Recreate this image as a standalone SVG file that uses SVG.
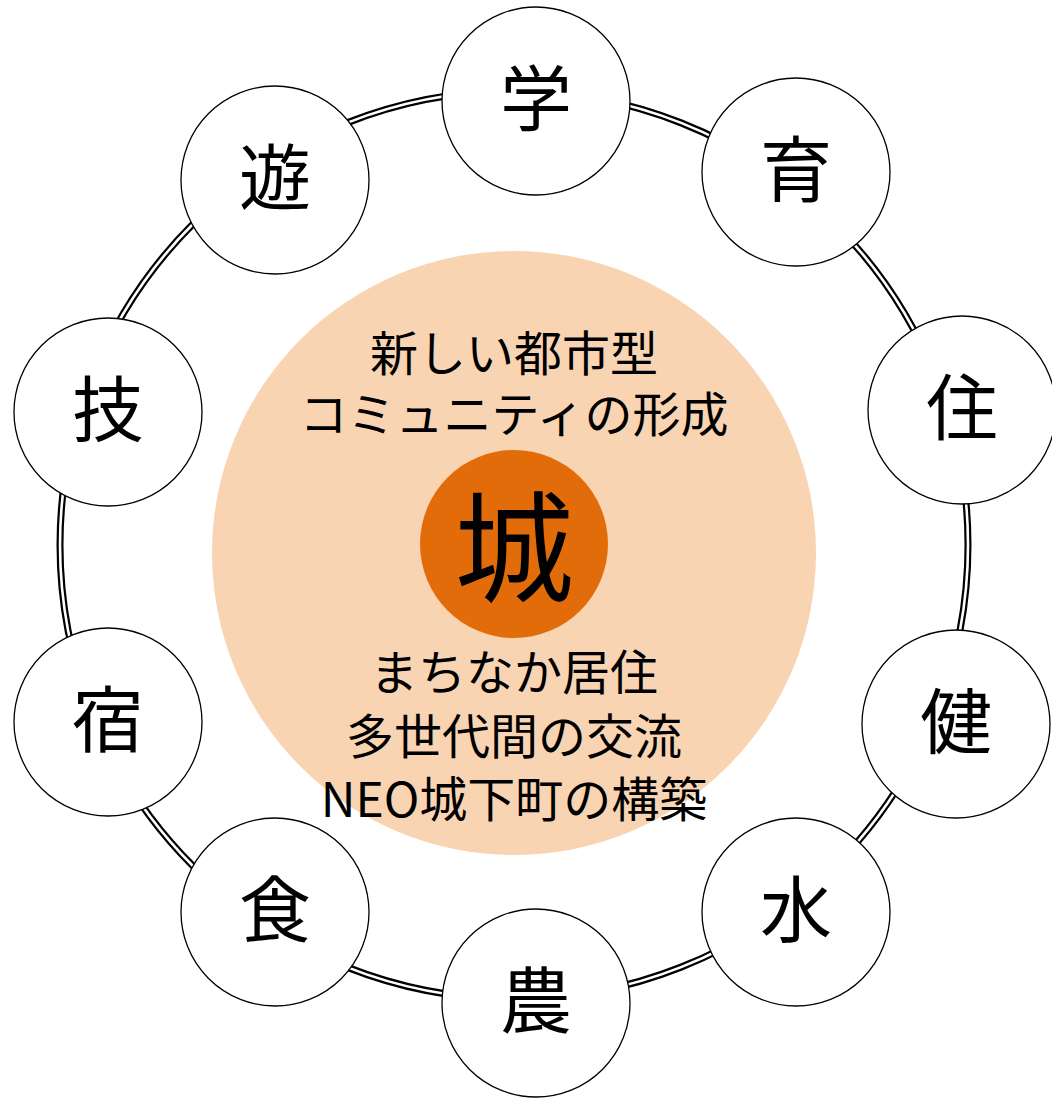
<svg xmlns="http://www.w3.org/2000/svg" width="1052" height="1098" viewBox="0 0 1052 1098">
<style>
.node{fill:#fff;stroke:#000;stroke-width:1.3}
.lbl{font-family:"Noto Sans CJK JP","Noto Sans",sans-serif;font-size:72px;fill:#000;text-anchor:middle;dominant-baseline:central}
.txt{font-family:"Noto Sans CJK JP","Noto Sans",sans-serif;font-size:48px;fill:#000;text-anchor:middle}
</style>
<rect width="1052" height="1098" fill="#fff"/>
<g id="connectors">
<circle cx="514" cy="545" r="454" fill="none" stroke="#000" stroke-width="7"/>
<circle cx="514" cy="545" r="454" fill="none" stroke="#fff" stroke-width="2.6"/>
</g>
<g id="center">
<circle cx="514" cy="553" r="302" fill="#F9D4B3"/>
<text class="txt" x="514" y="371">新しい都市型</text>
<text class="txt" x="514" y="432">コミュニティの形成</text>
<circle cx="514" cy="544" r="94" fill="#E36C0A"/>
<text x="514" y="541" font-family="Noto Sans CJK JP,sans-serif" font-size="120" text-anchor="middle" dominant-baseline="central">城</text>
<text class="txt" x="514" y="690">まちなか居住</text>
<text class="txt" x="514" y="754">多世代間の交流</text>
<text class="txt" x="514" y="817">NEO城下町の構築</text>
</g>
<g id="n-gaku"><circle class="node" cx="536" cy="101" r="94"/><text class="lbl" x="536" y="93">学</text></g>
<g id="n-iku"><circle class="node" cx="796" cy="172" r="94"/><text class="lbl" x="796" y="164">育</text></g>
<g id="n-juu"><circle class="node" cx="962" cy="410" r="94"/><text class="lbl" x="962" y="402">住</text></g>
<g id="n-ken"><circle class="node" cx="956" cy="724" r="94"/><text class="lbl" x="956" y="716">健</text></g>
<g id="n-mizu"><circle class="node" cx="796" cy="912" r="94"/><text class="lbl" x="796" y="904">水</text></g>
<g id="n-nou"><circle class="node" cx="536" cy="1003" r="94"/><text class="lbl" x="536" y="995">農</text></g>
<g id="n-shoku"><circle class="node" cx="275" cy="912" r="94"/><text class="lbl" x="275" y="904">食</text></g>
<g id="n-shuku"><circle class="node" cx="108" cy="722" r="94"/><text class="lbl" x="108" y="714">宿</text></g>
<g id="n-gi"><circle class="node" cx="108" cy="412" r="94"/><text class="lbl" x="108" y="404">技</text></g>
<g id="n-yuu"><circle class="node" cx="275" cy="180" r="94"/><text class="lbl" x="275" y="172">遊</text></g>
</svg>
